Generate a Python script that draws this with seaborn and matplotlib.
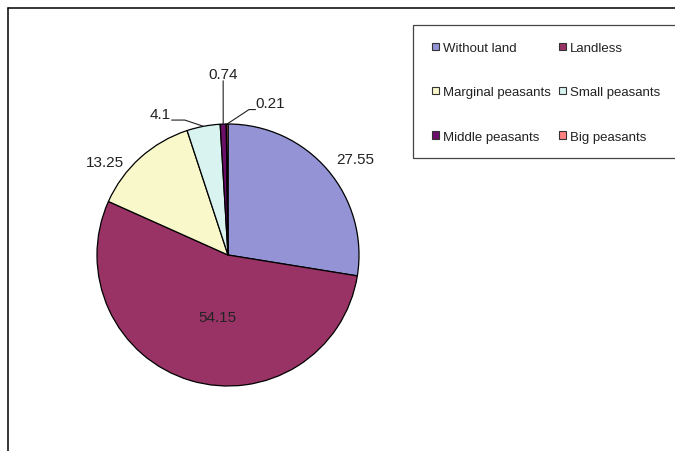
import numpy as np
import matplotlib
matplotlib.use('Agg')
import matplotlib.pyplot as plt
import seaborn as sns
from matplotlib.patches import Patch, Rectangle
from matplotlib.lines import Line2D

# data
categories = ['Without land', 'Landless', 'Marginal peasants',
              'Small peasants', 'Middle peasants', 'Big peasants']
shares = [27.55, 54.15, 13.25, 4.1, 0.74, 0.21]
value_labels = ['27.55', '54.15', '13.25', '4.1', '0.74', '0.21']
slice_colors = ['#9393D5', '#993366', '#F9F8CA', '#D8F3F0', '#6B0F6B', '#FF8080']

sns.set_theme(style='white')
plt.rcParams['font.family'] = ['Liberation Sans', 'DejaVu Sans']

W, H = 675, 452
fig = plt.figure(figsize=(W / 100, H / 100), dpi=100)


def px(x, y):
    # pixel position -> figure fraction
    return x / W, 1 - y / H


# pie axes: circle centred at (228, 256) px, radius 131 px
ax = fig.add_axes([97 / W, 1 - 387 / H, 262 / W, 262 / H])
palette = sns.color_palette(slice_colors)
wedges, _ = ax.pie(shares, colors=palette, startangle=90, counterclock=False,
                   wedgeprops=dict(edgecolor='black', linewidth=0.9))
ax.set_xlim(-1, 1)
ax.set_ylim(-1, 1)
ax.axis('off')

# label centres (axis units) and leader line elbows (None = no leader)
label_pos = [(0.97, 0.73), (-0.08, -0.47), (-0.94, 0.71),
             (-0.52, 1.08), (-0.04, 1.38), (0.32, 1.16)]
leader_elbows = [None, None, None,
                 [(-0.43, 1.03), (-0.33, 1.03)],
                 [(-0.037, 1.33)],
                 [(0.21, 1.11), (0.16, 1.11)]]

for w, txt, pos, elbow in zip(wedges, value_labels, label_pos, leader_elbows):
    ax.text(pos[0], pos[1], txt, ha='center', va='center', fontsize=11,
            color='#222222', clip_on=False)
    if elbow is not None:
        mid = np.deg2rad((w.theta1 + w.theta2) / 2)
        edge = (np.cos(mid), np.sin(mid))
        pts = elbow + [edge]
        ax.plot([p[0] for p in pts], [p[1] for p in pts], color='#222222',
                lw=0.8, clip_on=False)

# outer chart frame (left and top only visible)
fig.add_artist(Line2D([7.5 / W, 7.5 / W], [1 - 9 / H, 0], transform=fig.transFigure,
                      color='black', lw=1.1))
fig.add_artist(Line2D([7.5 / W, 1], [1 - 9 / H, 1 - 9 / H], transform=fig.transFigure,
                      color='black', lw=1.1))

# legend box
x0, y0 = px(413, 159)
fig.add_artist(Rectangle((x0, y0), (690 - 413) / W, (159 - 26) / H,
                         transform=fig.transFigure, facecolor='white',
                         edgecolor='#444444', lw=0.9, zorder=1))

order = [0, 2, 4, 1, 3, 5]
handles = [Patch(facecolor=palette[i], edgecolor='#333333', linewidth=0.8) for i in order]
labels = [categories[i] for i in order]
leg = fig.legend(handles, labels, ncol=2, loc='upper left',
                 bbox_to_anchor=px(432, 43), frameon=False, fontsize=9.5,
                 handlelength=0.5, handleheight=0.5, handletextpad=0.35,
                 columnspacing=0.6, labelspacing=2.45, borderpad=0,
                 borderaxespad=0)
leg.set_zorder(2)
for t in leg.get_texts():
    t.set_color('#222222')

fig.savefig('out.png', dpi=100)
